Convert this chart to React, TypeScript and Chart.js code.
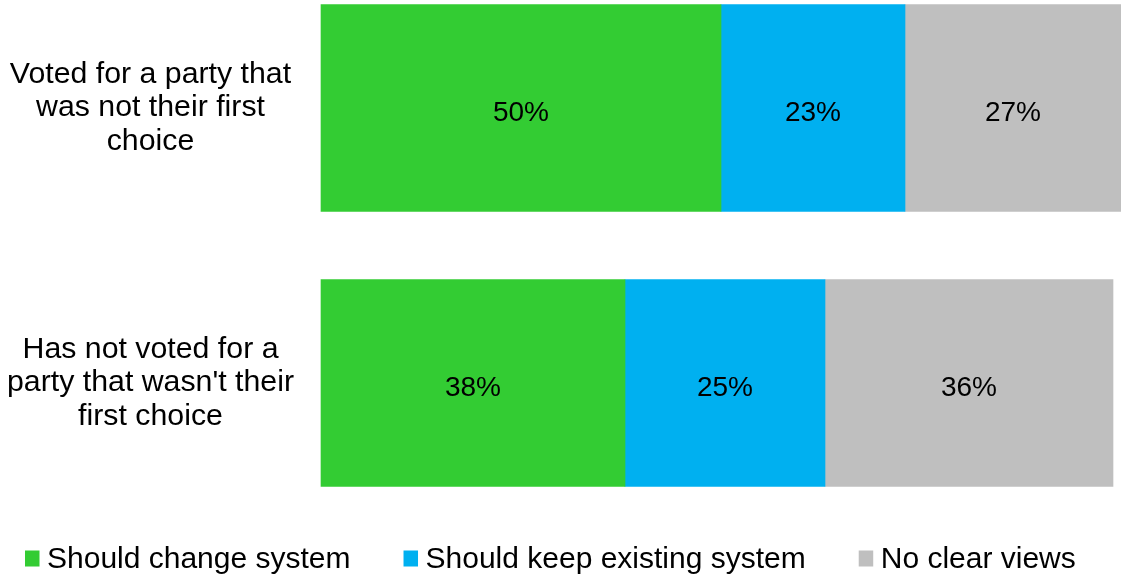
import { useEffect, useRef } from "react";
import { Chart, registerables } from "chart.js";

Chart.register(...registerables);

// Row labels (already split into display lines)
const categories = [
  ["Voted for a party that", "was not their first", "choice"],
  ["Has not voted for a", "party that wasn't their", "first choice"],
];
const seriesNames = ["Should change system", "Should keep existing system", "No clear views"];
const changeValues = [50, 38];
const keepValues = [23, 25];
const noViewValues = [27, 36];
const seriesColors = ["#33CC33", "#00B0F0", "#BFBFBF"];

const FONT = "'Liberation Sans', Arial, Helvetica, sans-serif";

// Percent labels centred inside each bar segment
const valueLabels = {
  id: "valueLabels",
  afterDatasetsDraw(chart: any) {
    const ctx = chart.ctx;
    ctx.save();
    ctx.font = `28px ${FONT}`;
    ctx.fillStyle = "#000";
    ctx.textAlign = "center";
    ctx.textBaseline = "alphabetic";
    chart.data.datasets.forEach((ds: any, di: number) => {
      const meta = chart.getDatasetMeta(di);
      meta.data.forEach((el: any, i: number) => {
        const v = ds.data[i];
        const { x, base, y } = el.getProps(["x", "base", "y"], true);
        ctx.fillText(`${v}%`, (x + base) / 2, y + 13);
      });
    });
    ctx.restore();
  },
};

// Single-row legend along the bottom edge
const bottomLegend = {
  id: "bottomLegend",
  afterDraw(chart: any) {
    const ctx = chart.ctx;
    ctx.save();
    ctx.font = `30px ${FONT}`;
    ctx.textAlign = "left";
    ctx.textBaseline = "alphabetic";
    let x = 25;
    chart.data.datasets.forEach((ds: any) => {
      ctx.fillStyle = ds.backgroundColor;
      ctx.fillRect(x, 550.5, 14.5, 16);
      ctx.fillStyle = "#000";
      ctx.fillText(ds.label, x + 22, 568);
      x += 22 + ctx.measureText(ds.label).width + 53;
    });
    ctx.restore();
  },
};

export default function App() {
  const canvasRef = useRef<HTMLCanvasElement | null>(null);

  useEffect(() => {
    if (!canvasRef.current) return;
    const seriesValues = [changeValues, keepValues, noViewValues];
    const chart = new Chart(canvasRef.current, {
      type: "bar",
      data: {
        labels: categories,
        datasets: seriesNames.map((name, i) => ({
          label: name,
          data: seriesValues[i],
          backgroundColor: seriesColors[i],
          borderWidth: 0,
          barThickness: 207,
          clip: false,
        })),
      },
      options: {
        indexAxis: "y",
        animation: false,
        responsive: false,
        layout: { padding: { top: 108, bottom: 194, left: 0, right: 0 } },
        scales: {
          x: { stacked: true, min: 0, max: 100, display: false },
          y: {
            stacked: true,
            offset: false,
            grid: { display: false, drawTicks: false },
            border: { display: false },
            ticks: {
              crossAlign: "center",
              padding: 27,
              color: "#000",
              font: { size: 30.3, family: FONT, lineHeight: 1.1 },
            },
            afterFit: (scale: any) => {
              scale.width = 321;
            },
          },
        },
        plugins: {
          legend: { display: false },
          tooltip: { enabled: false },
        },
      },
      plugins: [valueLabels, bottomLegend],
    } as any);
    return () => chart.destroy();
  }, []);

  return (
    <div style={{ position: "fixed", left: 0, top: 0, width: 1121, height: 577, background: "#fff" }}>
      <canvas ref={canvasRef} width={1121} height={577} />
    </div>
  );
}
